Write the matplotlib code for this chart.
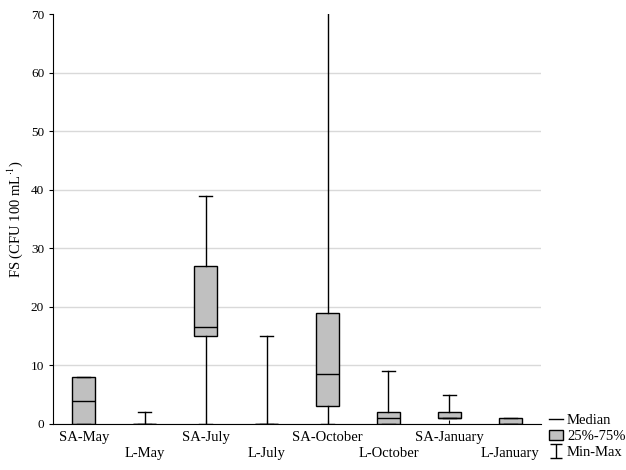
import matplotlib
matplotlib.use('Agg')
import matplotlib.pyplot as plt
from matplotlib.patches import Patch
from matplotlib.lines import Line2D
import numpy as np

plt.rcParams['font.family'] = ['Liberation Serif', 'DejaVu Serif']
plt.rcParams['mathtext.fontset'] = 'stix'

# data
labels = ['SA-May', 'L-May', 'SA-July', 'L-July', 'SA-October', 'L-October', 'SA-January', 'L-January']
mins = [0, 0, 0, 0, 0, 0, 1, 0]
q1s = [0, 0, 15, 0, 3, 0, 1, 0]
medians = [4, 0, 16.5, 0, 8.5, 1, 1, 0]
q3s = [8, 0, 27, 0, 19, 2, 2, 1]
maxs = [8, 2, 39, 15, 70, 9, 5, 1]

stats = []
for i in range(len(labels)):
	stats.append({'whislo': mins[i], 'q1': q1s[i], 'med': medians[i], 'q3': q3s[i],
		'whishi': maxs[i], 'label': labels[i]})

fig = plt.figure(figsize=(6.26, 4.70), dpi=100)
ax = fig.add_axes([0.085, 0.098, 0.779, 0.872])

bp = ax.bxp(stats, positions=range(len(labels)), widths=0.38, patch_artist=True,
	showfliers=False,
	boxprops=dict(facecolor='#c0c0c0', edgecolor='black', linewidth=1),
	medianprops=dict(color='black', linewidth=1),
	whiskerprops=dict(color='black', linewidth=1),
	capprops=dict(color='black', linewidth=1),
	capwidths=0.21)
# cap at the very top is cut off in the original
for c in bp['caps']:
	if c.get_ydata()[0] >= 70:
		c.set_visible(False)

ax.set_xlim(-0.5, 7.5)
ax.set_ylim(0, 70)
ax.set_yticks(range(0, 71, 10))
ax.yaxis.grid(True, color='#d9d9d9', linewidth=1)
ax.set_axisbelow(True)
for g in ax.yaxis.get_gridlines()[-1:]:
	g.set_visible(False)
for s in ['top', 'right']:
	ax.spines[s].set_visible(False)

ax.set_xticks(range(len(labels)))
ax.set_xticklabels(labels)
for i, t in enumerate(ax.get_xticklabels()):
	if i % 2 == 1:
		t.set_y(-0.04)
ax.tick_params(axis='x', direction='in', length=3, labelsize=10.5, pad=5)
ax.tick_params(axis='y', direction='out', length=3, labelsize=9.5)
ax.set_ylabel(r'FS (CFU 100 mL$^{\cdot 1}$)', fontsize=10.5)

eb = ax.errorbar([np.nan], [np.nan], yerr=[1], fmt='none', ecolor='black', capsize=4, elinewidth=1)
handles = [Line2D([0], [0], color='black', lw=1),
	Patch(facecolor='#c0c0c0', edgecolor='black'),
	eb]
fig.legend(handles, ['Median', '25%-75%', 'Min-Max'], loc='lower left',
	bbox_to_anchor=(0.866, 0.008), frameon=False, fontsize=10.5,
	handlelength=0.9, handletextpad=0.3, labelspacing=0.2, borderpad=0)

plt.savefig('out.png', dpi=100)
